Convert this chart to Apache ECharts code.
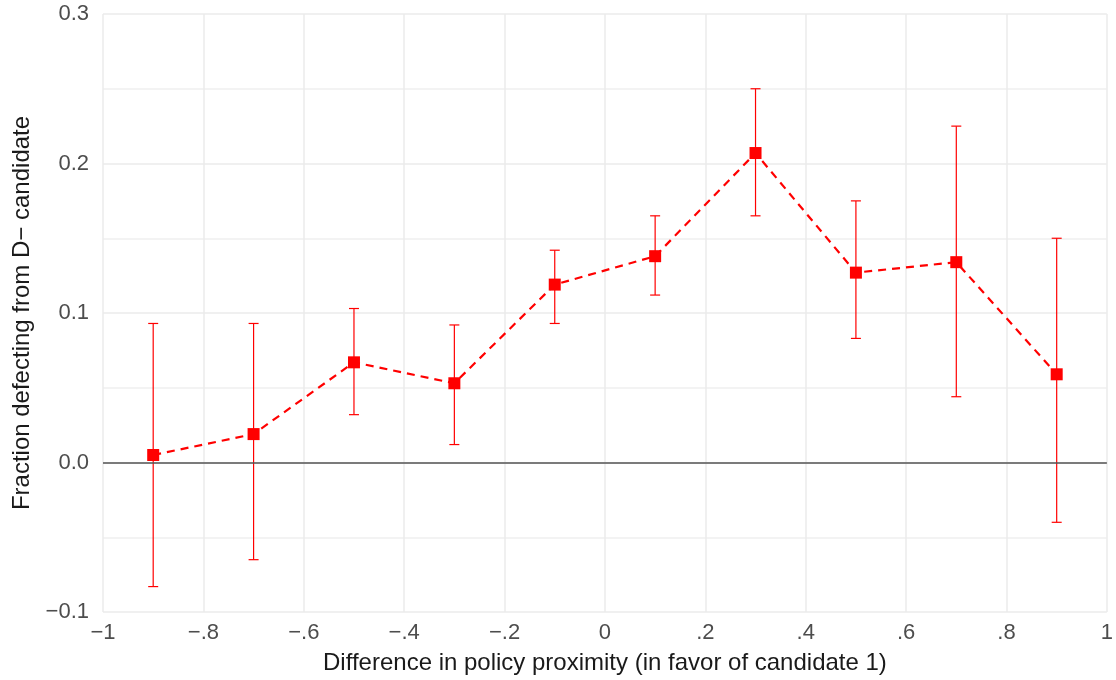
<!DOCTYPE html>
<html><head><meta charset="utf-8">
<script src="https://cdn.jsdelivr.net/npm/echarts@6/dist/echarts.min.js"></script>
<style>html,body{margin:0;padding:0;background:#fff}#c{width:1116px;height:680px}</style>
</head><body><div id="c"></div>
<script>
const xValues = [-0.9, -0.7, -0.5, -0.3, -0.1, 0.1, 0.3, 0.5, 0.7, 0.9];
const estimates = [0.005, 0.019, 0.067, 0.053, 0.119, 0.138, 0.207, 0.127, 0.134, 0.059];
const ciLower = [-0.083, -0.065, 0.032, 0.012, 0.093, 0.112, 0.165, 0.083, 0.044, -0.040];
const ciUpper = [0.093, 0.093, 0.103, 0.092, 0.142, 0.165, 0.250, 0.175, 0.225, 0.150];
const xTickLabels = {"-1":"−1","-0.8":"−.8","-0.6":"−.6","-0.4":"−.4","-0.2":"−.2","0":"0","0.2":".2","0.4":".4","0.6":".6","0.8":".8","1":"1"};
const yTickLabels = {"-0.1":"−0.1","0":"0.0","0.1":"0.1","0.2":"0.2","0.3":"0.3"};
const xTitle = "Difference in policy proximity (in favor of candidate 1)";
const yTitle = "Fraction defecting from D− candidate";

const font = "Liberation Sans, Arial, sans-serif";
const textColor = "#4d4d4d";
const chart = echarts.init(document.getElementById('c'));
const lineData = xValues.map((x, i) => [x, estimates[i]]);
const errData = xValues.map((x, i) => [x, ciLower[i], ciUpper[i]]);
const key = v => String(Math.round(v * 1000) / 1000);

chart.setOption({
  animation: false,
  grid: {left: 103, right: 8, top: 14, bottom: 68, containLabel: false},
  xAxis: {
    type: 'value', min: -1, max: 1, interval: 0.2,
    axisLine: {show: false}, axisTick: {show: false},
    splitLine: {show: true, lineStyle: {color: '#ebebeb', width: 1.5}},
    axisLabel: {color: textColor, fontFamily: font, fontSize: 22, margin: 10,
      formatter: v => xTickLabels[key(v)] ?? ''},
    name: xTitle, nameLocation: 'middle', nameGap: 39,
    nameTextStyle: {color: '#1a1a1a', fontFamily: font, fontSize: 24}
  },
  yAxis: {
    type: 'value', min: -0.1, max: 0.3, interval: 0.1,
    axisLine: {show: false}, axisTick: {show: false},
    splitLine: {show: true, lineStyle: {color: '#ebebeb', width: 1.5}},
    minorTick: {show: false, splitNumber: 2},
    minorSplitLine: {show: true, lineStyle: {color: '#f0f0f0', width: 1.5}},
    axisLabel: {color: textColor, fontFamily: font, fontSize: 22, margin: 14,
      formatter: v => yTickLabels[key(v)] ?? ''},
    name: yTitle, nameLocation: 'middle', nameGap: 66, nameRotate: 90,
    nameTextStyle: {color: '#1a1a1a', fontFamily: font, fontSize: 24}
  },
  series: [
    {
      type: 'line', data: [], silent: true,
      markLine: {silent: true, symbol: 'none', label: {show: false},
        lineStyle: {color: '#555555', width: 1.6, type: 'solid'},
        data: [{yAxis: 0}]}
    },
    {
      type: 'custom', data: errData, z: 3,
      renderItem: (params, api) => {
        const x = api.value(0);
        const lo = api.coord([x, api.value(1)]);
        const hi = api.coord([x, api.value(2)]);
        const hw = 5;
        const style = {stroke: '#ff0000', lineWidth: 1.2};
        return {type: 'group', children: [
          {type: 'line', shape: {x1: lo[0], y1: lo[1], x2: hi[0], y2: hi[1]}, style},
          {type: 'line', shape: {x1: lo[0]-hw, y1: lo[1], x2: lo[0]+hw, y2: lo[1]}, style},
          {type: 'line', shape: {x1: hi[0]-hw, y1: hi[1], x2: hi[0]+hw, y2: hi[1]}, style}
        ]};
      }
    },
    {
      type: 'line', data: lineData, z: 4,
      symbol: 'rect', symbolSize: 12, showSymbol: true,
      itemStyle: {color: '#ff0000'},
      lineStyle: {color: '#ff0000', width: 2.2, type: [8, 6]}
    }
  ]
});
</script></body></html>
